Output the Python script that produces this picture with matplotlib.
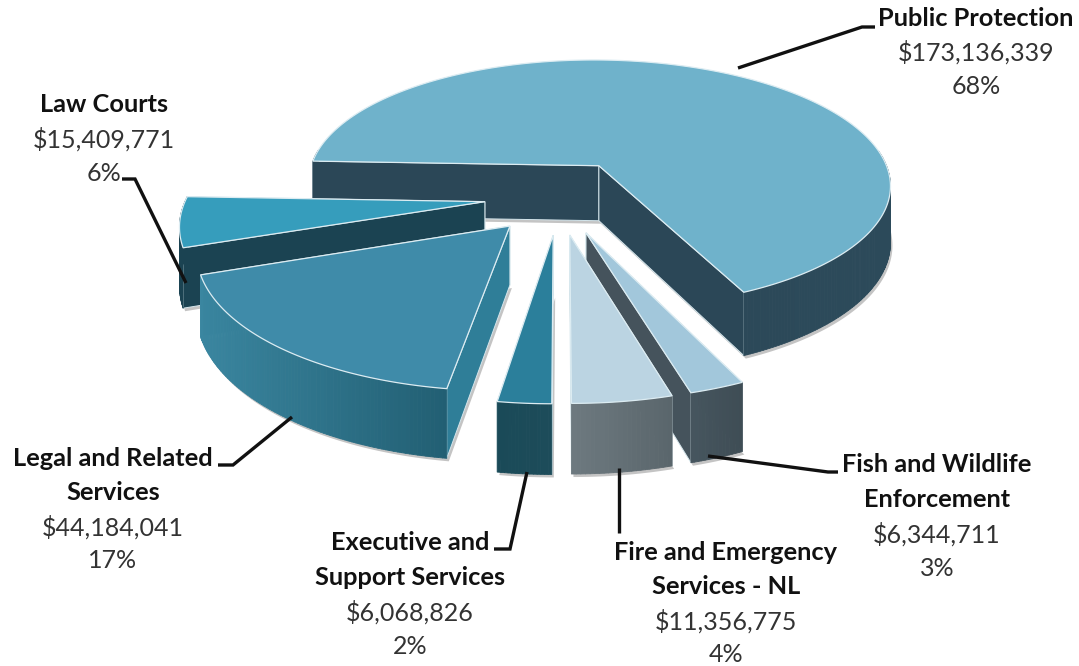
import numpy as np
import matplotlib.pyplot as plt
from matplotlib.colors import to_rgb
from matplotlib.collections import PolyCollection
from matplotlib.patches import Polygon

# data
names = ["Public Protection", "Fish and Wildlife\nEnforcement", "Fire and Emergency\nServices - NL",
         "Executive and\nSupport Services", "Legal and Related\nServices", "Law Courts"]
amounts = [173136339, 6344711, 11356775, 6068826, 44184041, 15409771]
percents = [68, 3, 4, 2, 17, 6]

# colours: top, side wall, outer wall left, outer wall right
top_colors = ["#6FB2CB", "#A2C7DB", "#BBD4E2", "#2B7F9B", "#3F8BA9", "#369DBC"]
side_colors = ["#2B4757", "#45535C", "#5F6C73", "#1B4A59", "#2F7E98", "#1B4352"]
wall_left = ["#2B4757", "#46565F", "#6E7A80", "#1A4A58", "#3A86A0", "#1B4352"]
wall_right = ["#2C4A5A", "#3F4D55", "#5A666C", "#1D4C5A", "#225F73", "#1B4352"]

# where the labels and the leader lines go (pixels)
label_x = [976, 937, 726, 410, 113, 104]
label_y = [18, 465, 552, 543, 458, 105]
leaders = [[(738, 68), (862, 27), (875, 27)],
           [(708, 456), (828, 472), (838, 472)],
           [(619, 468), (619, 533)],
           [(494, 549), (510, 549), (527, 472)],
           [(218, 465), (233, 465), (292, 417)],
           [(122, 179), (135, 179), (186, 283)]]

# pie projection
start_angle = -87.8
cx, cy = 559, 196
scale_x, scale_y, thick = 298, 130, 57
persp = 0.15
explode_x, explode_z = 0.25, 0.29
line_gap = 34


def project(X, z, h=0.0):
    w = 1 - persp * z
    return cx + scale_x * X / w, cy + (scale_y * z + thick * h) / w


def mix(c1, c2, t):
    c1, c2 = np.array(to_rgb(c1)), np.array(to_rgb(c2))
    return tuple(c1 + (c2 - c1) * t)


fig = plt.figure(figsize=(10.79, 6.66), dpi=100)
ax = fig.add_axes([0, 0, 1, 1])
ax.set_xlim(0, 1079)
ax.set_ylim(666, 0)
ax.axis("off")

shares = np.array(amounts) / sum(amounts) * 360
ends = start_angle + np.cumsum(shares)
starts = ends - shares

# back slices first, fire goes over the fish strip
for i in [0, 5, 4, 3, 1, 2]:
    mid = np.radians((starts[i] + ends[i]) / 2)
    ax0 = explode_x * np.sin(mid)
    az0 = -explode_z * np.cos(mid)
    th = np.radians(np.linspace(starts[i], ends[i], max(int(shares[i] * 1.5), 16)))
    rx = ax0 + np.sin(th)
    rz = az0 - np.cos(th)

    x_top, y_top = project(rx, rz)
    x_bot, y_bot = project(rx, rz, 1)
    ax_top = project(ax0, az0)
    ax_bot = project(ax0, az0, 1)

    # soft grey shadow under the slice
    shadow = np.column_stack([np.r_[ax_bot[0], x_bot] + 2, np.r_[ax_bot[1], y_bot] + 3])
    ax.add_patch(Polygon(shadow, closed=True, fc="#C4C4C4", ec="none", zorder=1))

    # flat side walls, the one further back first
    order = [0, -1] if rz[0] < rz[-1] else [-1, 0]
    for k in order:
        quad = [ax_top, (x_top[k], y_top[k]), (x_bot[k], y_bot[k]), ax_bot]
        ax.add_patch(Polygon(quad, closed=True, fc=side_colors[i], ec="#D5E6EC", lw=0.7, zorder=2))

    # outer wall, shaded from left to right
    quads, cols = [], []
    left, right = x_top.min(), x_top.max()
    for k in range(len(th) - 1):
        if -np.cos(th[k]) < -0.12 and -np.cos(th[k + 1]) < -0.12:
            continue
        quads.append([(x_top[k], y_top[k]), (x_top[k + 1], y_top[k + 1]),
                      (x_bot[k + 1], y_bot[k + 1]), (x_bot[k], y_bot[k])])
        cols.append(mix(wall_left[i], wall_right[i], (x_top[k] - left) / (right - left)))
    ax.add_collection(PolyCollection(quads, facecolors=cols, edgecolors=cols, linewidths=0.6, zorder=2))

    # top
    top = np.column_stack([np.r_[ax_top[0], x_top], np.r_[ax_top[1], y_top]])
    ax.add_patch(Polygon(top, closed=True, fc=top_colors[i], ec="#DCECF2", lw=0.9, zorder=2))

# labels
for i in range(len(names)):
    lines = names[i].split("\n")
    y = label_y[i]
    for line in lines:
        ax.text(label_x[i], y, line, ha="center", va="center", fontsize=18.3,
                family="Lato", weight="bold", color="#111111", zorder=5)
        y += line_gap + 0.5
    ax.text(label_x[i], y, f"${amounts[i]:,}", ha="center", va="center", fontsize=18,
            family="Lato", weight="normal", color="#333333", zorder=5)
    ax.text(label_x[i], y + line_gap, f"{percents[i]}%", ha="center", va="center", fontsize=18,
            family="Lato", weight="normal", color="#333333", zorder=5)

    xs, ys = zip(*leaders[i])
    ax.plot(xs, ys, color="#111111", lw=2.4, solid_joinstyle="miter", solid_capstyle="butt", zorder=4)

fig.savefig("out.png", dpi=100)
